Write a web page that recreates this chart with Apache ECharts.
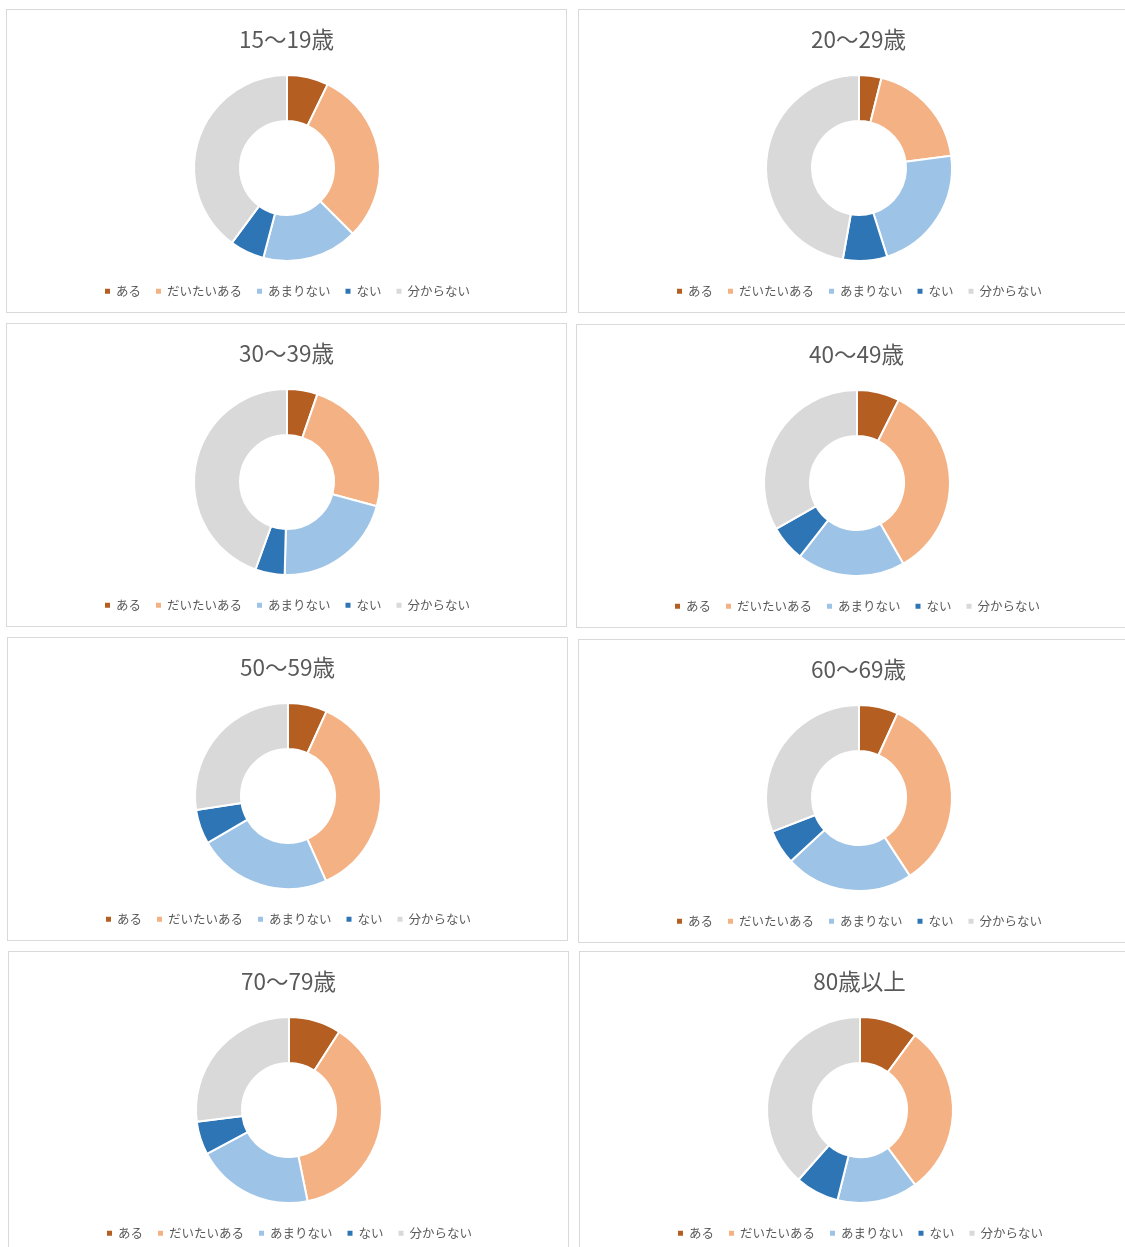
<!DOCTYPE html>
<html>
<head>
<meta charset="utf-8">
<script src="https://cdn.jsdelivr.net/npm/echarts@6/dist/echarts.min.js"></script>
<style>
  html, body { margin: 0; padding: 0; background: #fff; overflow: hidden; }
  body { width: 1125px; height: 1247px; position: relative; }
  .panel { position: absolute; width: 561px; height: 304px; box-sizing: border-box; border: 1px solid #d9d9d9; background: #fff; }
</style>
</head>
<body>
<div id="wrap"></div>
<script>
// Answer categories shared by every age group
const categories = ['ある', 'だいたいある', 'あまりない', 'ない', '分からない'];

// Age groups (panel titles)
const ageGroups = ['15～19歳', '20～29歳', '30～39歳', '40～49歳', '50～59歳', '60～69歳', '70～79歳', '80歳以上'];

// Share of answers (%) per age group, in category order
const age15_19 = [7.2, 30.3, 16.6, 6.0, 39.9];
const age20_29 = [3.9, 19.0, 22.2, 7.7, 47.2];
const age30_39 = [5.3, 23.9, 21.2, 5.1, 44.5];
const age40_49 = [7.4, 34.3, 18.8, 6.3, 33.2];
const age50_59 = [6.8, 36.5, 23.3, 6.0, 27.4];
const age60_69 = [6.8, 34.0, 22.3, 6.0, 30.9];
const age70_79 = [9.1, 37.7, 20.4, 5.8, 27.0];
const age80_up = [10.1, 29.8, 14.0, 7.6, 38.5];

const groupValues = [age15_19, age20_29, age30_39, age40_49, age50_59, age60_69, age70_79, age80_up];

const colors = ['#B45E22', '#F4B183', '#9DC3E6', '#2E75B6', '#D9D9D9'];

// Panel placement on the page
const panelPos = [
  [6, 9], [578, 9],
  [6, 323], [576, 324],
  [7, 637], [578, 639],
  [8, 951], [579, 951]
];

const FONT = '"Noto Sans CJK JP", "Noto Sans", sans-serif';
const wrap = document.getElementById('wrap');

ageGroups.forEach(function (title, i) {
  const div = document.createElement('div');
  div.className = 'panel';
  div.style.left = panelPos[i][0] + 'px';
  div.style.top = panelPos[i][1] + 'px';
  wrap.appendChild(div);

  const chart = echarts.init(div, null, { renderer: 'canvas', width: 559, height: 302 });
  const vals = groupValues[i];
  chart.setOption({
    animation: false,
    color: colors,
    title: {
      text: title,
      left: 'center',
      top: 13,
      textStyle: { fontFamily: FONT, fontSize: 22.5, fontWeight: 'normal', color: '#595959' }
    },
    legend: {
      data: categories,
      left: 'center',
      top: 270,
      icon: 'rect',
      itemWidth: 7,
      itemHeight: 7,
      itemGap: 13,
      selectedMode: false,
      textStyle: { fontFamily: FONT, fontSize: 12.5, color: '#595959' }
    },
    series: [{
      type: 'pie',
      center: [280, 158],
      radius: [47, 93],
      startAngle: 90,
      clockwise: true,
      silent: true,
      label: { show: false },
      labelLine: { show: false },
      itemStyle: { borderColor: '#ffffff', borderWidth: 2 },
      data: categories.map(function (c, k) { return { name: c, value: vals[k] }; })
    }]
  });
});
</script>
</body>
</html>
